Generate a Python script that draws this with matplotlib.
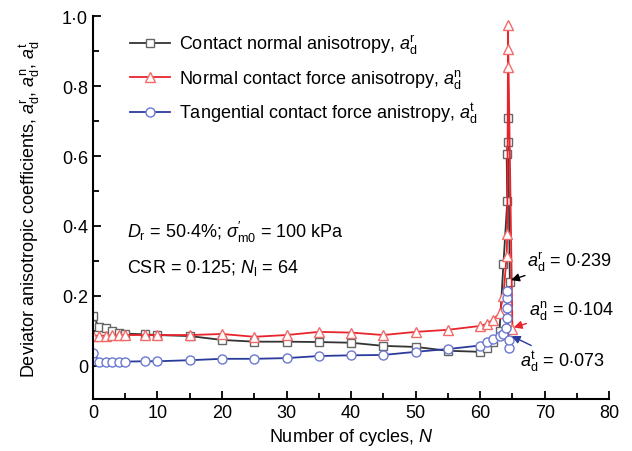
import matplotlib
matplotlib.use("Agg")
import matplotlib.pyplot as plt
from matplotlib.ticker import MultipleLocator, FuncFormatter

plt.rcParams['font.family'] = ['Liberation Sans', 'DejaVu Sans']
plt.rcParams['mathtext.fontset'] = 'custom'
plt.rcParams['mathtext.rm'] = 'Liberation Sans'
plt.rcParams['mathtext.it'] = 'Liberation Sans:italic'
plt.rcParams['font.size'] = 13

# data
n_fabric = [0, 1, 2, 3, 4, 5, 8, 10, 15, 20, 25, 30, 35, 40, 45, 50, 55, 60, 61, 62, 63,
            63.6, 64.2, 64.1, 64.3, 64.3, 64.6]
a_fabric = [0.143, 0.110, 0.107, 0.100, 0.095, 0.092, 0.090, 0.088, 0.085, 0.074, 0.069,
            0.069, 0.068, 0.066, 0.057, 0.054, 0.043, 0.040, 0.050, 0.068, 0.100,
            0.290, 0.470, 0.605, 0.640, 0.710, 0.239]

n_normal = [0, 1, 2, 3, 4, 5, 8, 10, 15, 20, 25, 30, 35, 40, 45, 50, 55, 60, 61, 62, 63,
            63.6, 64.1, 64.2, 64.3, 64.3, 64.3, 65.0]
a_normal = [0.086, 0.086, 0.086, 0.087, 0.087, 0.088, 0.088, 0.088, 0.088, 0.091, 0.083,
            0.088, 0.097, 0.095, 0.088, 0.097, 0.103, 0.114, 0.120, 0.132, 0.150,
            0.200, 0.314, 0.377, 0.854, 0.906, 0.974, 0.104]

n_tang = [0, 1, 2, 3, 4, 5, 8, 10, 15, 20, 25, 30, 35, 40, 45, 50, 55, 60, 61, 62, 63,
          63.5, 64.0, 64.2, 64.2, 64.2, 64.2, 64.4, 64.5]
a_tang = [0.037, 0.012, 0.012, 0.012, 0.012, 0.012, 0.013, 0.013, 0.016, 0.020, 0.020,
          0.022, 0.028, 0.030, 0.031, 0.040, 0.048, 0.058, 0.068, 0.077, 0.085,
          0.090, 0.109, 0.137, 0.166, 0.194, 0.214, 0.050, 0.073]

fig = plt.figure(figsize=(6.32, 4.52), dpi=100)
ax = fig.add_axes([0.147, 0.115, 0.817, 0.847])

ax.plot(n_fabric, a_fabric, color='#333333', lw=1.3, marker='s', ms=6,
        mfc='white', mec='#666666', mew=1.0,
        label=r'Contact normal anisotropy, $\mathit{a}_\mathrm{d}^\mathrm{r}$')
ax.plot(n_normal, a_normal, color='#e8242c', lw=1.3, marker='^', ms=7,
        mfc='white', mec='#f06a6a', mew=1.0,
        label=r'Normal contact force anisotropy, $\mathit{a}_\mathrm{d}^\mathrm{n}$')
ax.plot(n_tang, a_tang, color='#2b3b9b', lw=1.3, marker='o', ms=6.5,
        mfc='white', mec='#6b79d0', mew=1.0,
        label=r'Tangential contact force anistropy, $\mathit{a}_\mathrm{d}^\mathrm{t}$')

ax.set_xlim(0, 80)
ax.set_ylim(-0.095, 1.0)
ax.spines['top'].set_visible(False)
ax.spines['right'].set_visible(False)
ax.spines['left'].set_linewidth(1.5)
ax.spines['bottom'].set_linewidth(1.5)
ax.xaxis.set_major_locator(MultipleLocator(10))
ax.xaxis.set_minor_locator(MultipleLocator(5))
ax.yaxis.set_major_locator(MultipleLocator(0.2))
ax.yaxis.set_minor_locator(MultipleLocator(0.1))
ax.tick_params(which='both', direction='in', width=1.3)
ax.tick_params(which='major', length=6)
ax.tick_params(which='minor', length=4)


def dot_fmt(v, pos):
    if abs(v) < 1e-9:
        return '0'
    return ('%.1f' % v).replace('.', '\u00b7')


ax.xaxis.set_major_formatter(FuncFormatter(lambda v, p: '%d' % round(v)))
ax.yaxis.set_major_formatter(FuncFormatter(dot_fmt))

ax.set_xlabel(r'Number of cycles, $\mathit{N}$', labelpad=4)
ax.set_ylabel(r'Deviator anisotropic coefficients, $\mathit{a}_\mathrm{d}^\mathrm{r}$, '
              r'$\mathit{a}_\mathrm{d}^\mathrm{n}$, $\mathit{a}_\mathrm{d}^\mathrm{t}$', labelpad=14)

ax.legend(loc='upper left', bbox_to_anchor=(0.04, 1.0), frameon=False,
          handlelength=2.2, handletextpad=0.5, labelspacing=0.6, fontsize=13)

ax.text(5.3, 0.383, r"$\mathit{D}_\mathrm{r}$ = 50$\cdot$4%; $\mathit{\sigma}^{\prime}_\mathrm{m0}$ = 100 kPa",
        va='center', ha='left')
ax.text(5.3, 0.283, r"CSR = 0$\cdot$125; $\mathit{N}_\mathrm{l}$ = 64", va='center', ha='left')

ax.annotate(r'$\mathit{a}_\mathrm{d}^\mathrm{r}$ = 0$\cdot$239', xy=(64.8, 0.245),
            xytext=(67.2, 0.30), va='center', ha='left',
            arrowprops=dict(arrowstyle='-|>', color='black', lw=1.0, mutation_scale=12,
                            shrinkA=0, shrinkB=0))
ax.annotate(r'$\mathit{a}_\mathrm{d}^\mathrm{n}$ = 0$\cdot$104', xy=(65.2, 0.11),
            xytext=(67.6, 0.16), va='center', ha='left',
            arrowprops=dict(arrowstyle='-|>', color='#e8242c', lw=1.0, mutation_scale=12,
                            shrinkA=0, shrinkB=0))
ax.annotate(r'$\mathit{a}_\mathrm{d}^\mathrm{t}$ = 0$\cdot$073', xy=(64.9, 0.085),
            xytext=(66.2, 0.015), va='center', ha='left',
            arrowprops=dict(arrowstyle='-|>', color='#2b3b9b', lw=1.0, mutation_scale=12,
                            shrinkA=0, shrinkB=0))

fig.savefig('out.png', dpi=100)
